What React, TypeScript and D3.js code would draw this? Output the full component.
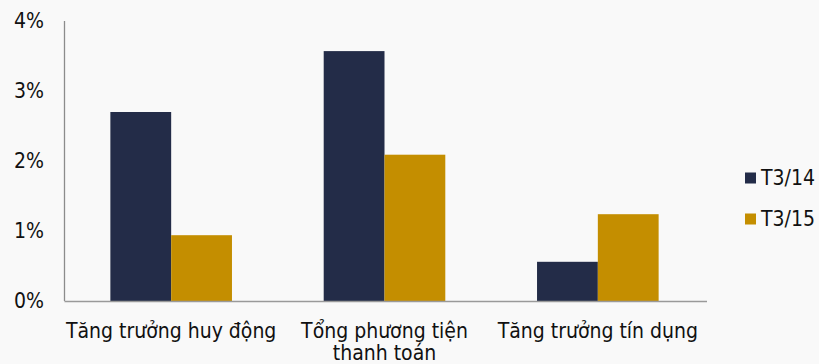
import React from "react";
import * as d3 from "d3";

const categories: string[][] = [
  ["Tăng trưởng huy động"],
  ["Tổng phương tiện", "thanh toán"],
  ["Tăng trưởng tín dụng"],
];
const seriesNames = ["T3/14", "T3/15"];
const t314 = [2.7, 3.57, 0.56];
const t315 = [0.94, 2.09, 1.24];
const yTicks = [0, 1, 2, 3, 4];
const colors = ["#232c48", "#c48e00"];

const W = 819;
const H = 364;
const FONT = "'DejaVu Sans Condensed', 'DejaVu Sans', sans-serif";

export default function App() {
  const x0 = d3
    .scaleBand<number>()
    .domain(d3.range(categories.length))
    .range([64.5, 704.5])
    .paddingInner(0.43)
    .paddingOuter(0.215);
  const x1 = d3
    .scaleBand<number>()
    .domain([0, 1])
    .range([0, x0.bandwidth()]);
  const y = d3.scaleLinear().domain([0, 4]).range([301, 21]);
  const series = [t314, t315];

  return (
    <svg
      width={W}
      height={H}
      style={{ position: "absolute", left: 0, top: 0, display: "block" }}
      fontFamily={FONT}
    >
      <rect x={0} y={0} width={W} height={H} fill="#f9f9f9" />
      {series.map((vals, s) =>
        vals.map((v, i) => (
          <rect
            key={`${s}-${i}`}
            x={(x0(i) as number) + (x1(s) as number)}
            y={y(v)}
            width={x1.bandwidth()}
            height={y(0) - y(v)}
            fill={colors[s]}
          />
        ))
      )}
      <line x1={64.5} x2={64.5} y1={y(4)} y2={y(0)} stroke="#8c8c8c" strokeWidth={1.3} />
      <line x1={64.5} x2={707} y1={y(0) + 0.5} y2={y(0) + 0.5} stroke="#9a9a9a" strokeWidth={1.5} />
      {yTicks.map((t) => (
        <text
          key={t}
          x={44}
          y={y(t)}
          textAnchor="end"
          dominantBaseline="central"
          fontSize={21}
          fill="#111"
        >
          {t}%
        </text>
      ))}
      {categories.map((lines, i) => (
        <text
          key={i}
          x={(x0(i) as number) + x0.bandwidth() / 2}
          y={338}
          textAnchor="middle"
          fontSize={21}
          fill="#111"
        >
          {lines.map((l, j) => (
            <tspan key={j} x={(x0(i) as number) + x0.bandwidth() / 2} dy={j === 0 ? 0 : 22}>
              {l}
            </tspan>
          ))}
        </text>
      ))}
      {seriesNames.map((n, s) => (
        <g key={n} transform={`translate(745, ${178 + s * 41})`}>
          <rect x={0} y={-5.5} width={11} height={11} fill={colors[s]} />
          <text x={16} y={0} dominantBaseline="central" fontSize={21} fill="#111">
            {n}
          </text>
        </g>
      ))}
    </svg>
  );
}
